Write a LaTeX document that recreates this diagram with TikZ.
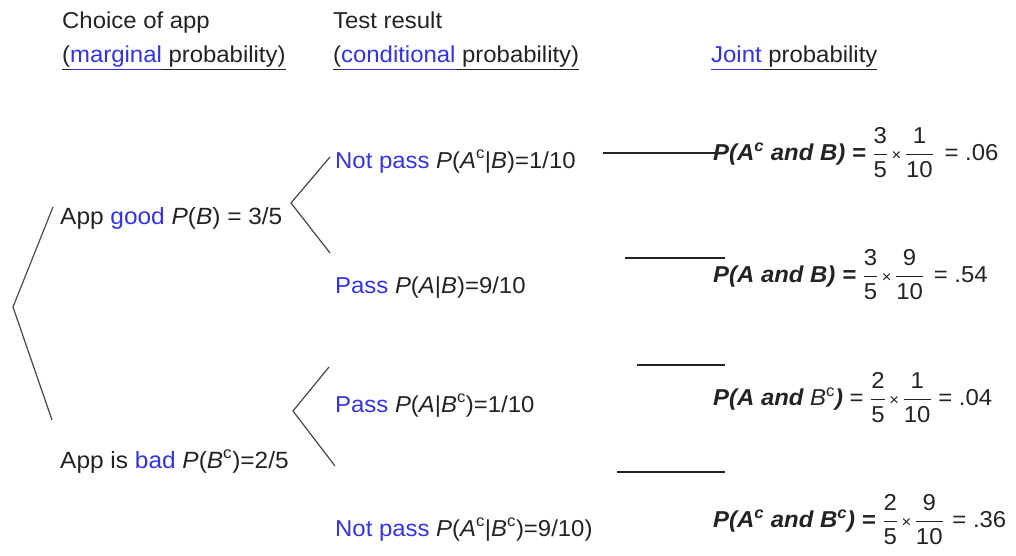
\documentclass[tikz,border=0pt]{standalone}
\usepackage{fontspec}
\setmainfont{Liberation Sans}[FakeStretch=1.04]
\definecolor{lb}{RGB}{50,50,235}
\definecolor{tx}{RGB}{35,35,35}
\definecolor{ln}{RGB}{70,70,70}
\newcommand\ul[1]{\underline{\hbox{#1\vphantom{(}}}}
\newcommand\fr[2]{$\displaystyle\frac{\hbox{#1}}{\hbox{#2}}$}
\newcommand\tms{\hspace{3.5pt}{\fontsize{16}{18}\selectfont×}\hspace{3.5pt}}
\newcommand\sps[1]{\textsuperscript{#1}}
\begin{document}
\begin{tikzpicture}[x=1pt,y=-1pt,
  lbl/.style={anchor=base west,inner sep=0pt,font=\fontsize{23}{27}\selectfont,text=tx},
  big/.style={font=\fontsize{23.5}{28}\selectfont},
  frm/.style={anchor=west,inner sep=0pt,font=\fontsize{23}{27}\selectfont,text=tx},
  branch/.style={draw=ln,line width=1.2pt},
  jline/.style={draw=tx,line width=1.5pt}]
\useasboundingbox (0,0) rectangle (1016,556);
% headers
\node[lbl] (h1) at (62,29) {Choice of app};
\node[lbl] (h1b) at (62,63) {\ul{(}{\color{lb}\ul{marginal}}\ul{ probability)}};
\node[lbl] (h2) at (333,29) {Test result};
\node[lbl] (h2b) at (333,63) {\ul{(}{\color{lb}\ul{conditional}}\ul{ probability)}};
\node[lbl] (h3b) at (711,63) {{\color{lb}\ul{Joint}}\ul{ probability}};
% first level
\node[lbl,big] (good) at (60,224) {App {\color{lb}good} \textit{P}(\textit{B}) = 3/5};
\node[lbl,big] (bad) at (60,468) {App is {\color{lb}bad} \textit{P}(\textit{B}\sps{c})=2/5};
% second level
\node[lbl] (gnp) at (335,168) {{\color{lb}Not pass} \textit{P}(\textit{A}\sps{c}|\textit{B})=1/10};
\node[lbl] (gp) at (335,293) {{\color{lb}Pass} \textit{P}(\textit{A}|\textit{B})=9/10};
\node[lbl] (bp) at (335,412) {{\color{lb}Pass} \textit{P}(\textit{A}|\textit{B}\sps{c})=1/10};
\node[lbl] (bnp) at (335,536) {{\color{lb}Not pass} \textit{P}(\textit{A}\sps{c}|\textit{B}\sps{c})=9/10)};
% joint
\node[frm] (f1) at (713,153) {{\bfseries\itshape P(A\sps{c} and B) =} \fr{3}{5}\tms\fr{1}{10}\hspace{4pt} = .06};
\node[frm] (f2) at (713,275) {{\bfseries\itshape P(A and B) =} \fr{3}{5}\tms\fr{9}{10}\hspace{3pt} = .54};
\node[frm] (f3) at (713,398) {{\bfseries\itshape P(A and }\textit{B}\sps{c}{\bfseries\itshape )} = \fr{2}{5}\tms\fr{1}{10} = .04};
\node[frm] (f4) at (713,520) {{\bfseries\itshape P(A\sps{c} and B\sps{c}) =} \fr{2}{5}\tms\fr{9}{10}\hspace{2pt} = .36};
% tree connectors
\coordinate (r) at (13,307);
\coordinate (ga) at (53,207);
\coordinate (ba) at (52,420);
\draw[branch] (ga) -- (r) -- (ba);
\coordinate (gv) at (291,203);
\coordinate (gu) at (330,157);
\coordinate (gd) at (330,253);
\draw[branch] (gu) -- (gv) -- (gd);
\coordinate (bv) at (293,411);
\coordinate (bu) at (329,367);
\coordinate (bd) at (335,466);
\draw[branch] (bu) -- (bv) -- (bd);
% joint lines
\coordinate (j1a) at (603,153); \coordinate (j1b) at (718,153);
\coordinate (j2a) at (625,258); \coordinate (j2b) at (725,258);
\coordinate (j3a) at (637,365); \coordinate (j3b) at (725,365);
\coordinate (j4a) at (617,472); \coordinate (j4b) at (725,472);
\draw[jline] (j1a) -- (j1b);
\draw[jline] (j2a) -- (j2b);
\draw[jline] (j3a) -- (j3b);
\draw[jline] (j4a) -- (j4b);
\end{tikzpicture}
\end{document}
